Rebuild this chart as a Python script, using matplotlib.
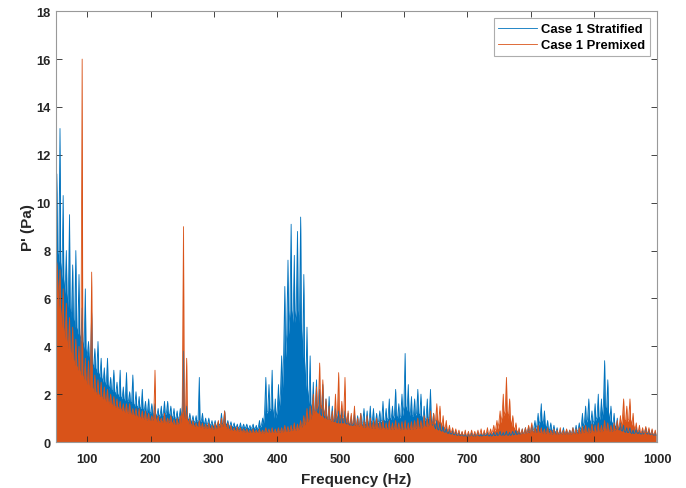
import numpy as np
import matplotlib
matplotlib.use('Agg')
import matplotlib.pyplot as plt

# spectrum in 5 Hz bins, 50..995 Hz
# peak = highest spike in the bin, floor = top of the solid band
FREQ_START = 50
FREQ_STEP = 5

stratified_peak = [
    11.2, 13.1, 10.3, 8.0, 9.5, 7.4, 8.0, 7.0, 5.6, 6.4,
    4.2, 5.4, 3.9, 4.2, 3.5, 3.1, 3.5, 2.7, 3.0, 2.5,
    3.0, 2.3, 2.9, 2.1, 2.8, 2.1, 1.9, 2.2, 1.7, 1.8,
    1.6, 1.6, 1.4, 1.5, 1.7, 1.7, 1.5, 1.4, 1.3, 1.4,
    3.8, 1.5, 1.2, 1.1, 1.1, 2.7, 1.2, 1.0, 1.0, 0.9,
    0.9, 0.85, 1.2, 1.3, 0.9, 0.85, 0.8, 0.75, 0.8, 0.75,
    0.75, 0.7, 0.75, 0.7, 0.9, 1.0, 2.7, 2.4, 3.0, 1.8,
    2.4, 3.6, 6.5, 7.6, 9.1, 7.8, 8.8, 9.4, 7.0, 4.8,
    3.6, 2.5, 2.6, 2.2, 2.4, 1.8, 1.9, 1.5, 1.4, 1.3,
    1.4, 1.3, 1.2, 1.1, 1.2, 1.1, 1.2, 1.4, 1.3, 1.5,
    1.4, 1.2, 1.3, 1.7, 1.4, 1.8, 1.5, 2.2, 1.6, 2.0,
    3.7, 2.4, 1.9, 1.8, 2.2, 2.0, 1.5, 1.8, 2.2, 1.2,
    0.9, 0.8, 0.7, 0.6, 0.55, 0.5, 0.45, 0.4, 0.4, 0.35,
    0.35, 0.4, 0.35, 0.4, 0.35, 0.4, 0.4, 0.35, 0.4, 0.4,
    0.45, 0.4, 0.45, 0.4, 0.45, 0.5, 0.5, 0.55, 0.6, 0.65,
    0.7, 0.9, 1.2, 1.6, 1.3, 0.9, 0.8, 0.7, 0.6, 0.5,
    0.6, 0.5, 0.5, 0.6, 0.7, 0.8, 1.2, 1.5, 1.8, 1.3,
    1.6, 2.0, 1.8, 3.4, 2.6, 1.5, 1.2, 1.0, 0.8, 0.7,
    0.6, 0.6, 0.5, 0.6, 0.5, 0.5, 0.6, 0.5, 0.5, 0.4,
]
stratified_floor = [
    8.0, 7.5, 6.8, 6.2, 5.6, 5.2, 4.8, 4.5, 4.2, 3.9,
    3.6, 3.3, 3.1, 2.9, 2.7, 2.5, 2.4, 2.2, 2.1, 2.0,
    1.9, 1.8, 1.75, 1.7, 1.6, 1.5, 1.45, 1.4, 1.3, 1.25,
    1.2, 1.15, 1.1, 1.1, 1.15, 1.2, 1.1, 1.0, 1.0, 1.0,
    1.3, 1.0, 0.9, 0.85, 0.85, 0.9, 0.85, 0.75, 0.75, 0.7,
    0.7, 0.7, 0.75, 0.8, 0.7, 0.65, 0.65, 0.6, 0.6, 0.6,
    0.6, 0.55, 0.6, 0.55, 0.6, 0.7, 1.2, 1.3, 1.4, 1.0,
    1.3, 2.0, 3.5, 4.5, 5.5, 5.0, 5.5, 5.0, 3.5, 2.2,
    1.6, 1.3, 1.3, 1.2, 1.1, 1.0, 0.95, 0.9, 0.85, 0.8,
    0.8, 0.8, 0.75, 0.7, 0.7, 0.7, 0.75, 0.8, 0.8, 0.85,
    0.85, 0.8, 0.85, 0.9, 0.9, 1.0, 0.95, 1.1, 1.0, 1.1,
    1.5, 1.3, 1.1, 1.1, 1.2, 1.1, 0.9, 1.0, 1.0, 0.7,
    0.55, 0.5, 0.45, 0.4, 0.35, 0.33, 0.3, 0.28, 0.27, 0.25,
    0.25, 0.27, 0.25, 0.27, 0.25, 0.27, 0.27, 0.25, 0.27, 0.27,
    0.3, 0.28, 0.3, 0.28, 0.3, 0.32, 0.33, 0.35, 0.38, 0.4,
    0.45, 0.55, 0.7, 0.9, 0.75, 0.55, 0.5, 0.45, 0.4, 0.35,
    0.38, 0.35, 0.35, 0.38, 0.42, 0.5, 0.65, 0.8, 0.95, 0.75,
    0.9, 1.05, 0.95, 1.5, 1.3, 0.85, 0.7, 0.6, 0.5, 0.45,
    0.4, 0.4, 0.35, 0.38, 0.35, 0.33, 0.38, 0.33, 0.32, 0.28,
]

premixed_peak = [
    7.5, 7.2, 6.4, 5.8, 5.2, 4.8, 4.3, 4.0, 16.0, 3.5,
    3.4, 7.1, 2.8, 2.6, 2.5, 2.3, 2.2, 2.0, 1.9, 1.8,
    1.7, 1.6, 1.6, 1.6, 1.4, 1.4, 1.4, 1.3, 1.3, 1.2,
    1.1, 3.0, 1.1, 1.0, 1.2, 1.0, 1.1, 0.95, 1.0, 1.1,
    9.0, 3.5, 1.0, 0.9, 0.8, 0.9, 0.8, 0.75, 0.8, 0.7,
    0.8, 0.9, 1.0, 1.3, 0.8, 0.7, 0.6, 0.65, 0.6, 0.55,
    0.55, 0.5, 0.55, 0.5, 0.55, 0.5, 0.6, 0.55, 0.6, 0.55,
    0.6, 0.6, 0.7, 0.65, 0.7, 0.8, 0.75, 0.9, 1.1, 1.4,
    1.5, 2.0, 2.3, 3.3, 2.6, 1.8, 1.5, 1.3, 2.0, 2.9,
    1.7, 2.7, 1.3, 1.2, 1.5, 1.0, 1.2, 0.9, 1.1, 1.0,
    0.9, 1.0, 0.85, 0.9, 0.8, 0.9, 0.8, 0.9, 0.8, 0.85,
    0.9, 0.8, 0.85, 0.9, 1.0, 0.9, 1.1, 1.0, 1.3, 1.2,
    1.6, 1.5, 1.1, 0.9, 0.7, 0.6, 0.55, 0.5, 0.45, 0.5,
    0.45, 0.5, 0.45, 0.5, 0.55, 0.5, 0.6, 0.55, 0.7, 0.9,
    1.3, 2.0, 2.7, 1.8, 1.1, 0.8, 0.6, 0.55, 0.6, 0.7,
    0.8, 0.6, 0.7, 0.6, 0.55, 0.6, 0.5, 0.55, 0.5, 0.6,
    0.5, 0.55, 0.5, 0.6, 0.55, 0.6, 0.65, 0.7, 0.6, 0.75,
    0.7, 0.8, 0.7, 0.9, 0.8, 0.7, 0.8, 0.9, 1.1, 1.8,
    1.5, 1.8, 1.2, 0.8, 0.7, 0.6, 0.65, 0.6, 0.55, 0.5,
]
premixed_floor = [
    7.0, 5.6, 4.8, 4.3, 3.9, 3.5, 3.2, 3.0, 2.8, 2.6,
    2.4, 2.3, 2.1, 2.0, 1.9, 1.8, 1.7, 1.6, 1.5, 1.45,
    1.4, 1.3, 1.25, 1.2, 1.15, 1.1, 1.05, 1.0, 0.95, 0.9,
    0.9, 1.0, 0.85, 0.85, 0.85, 0.8, 0.85, 0.75, 0.75, 0.8,
    1.5, 1.0, 0.75, 0.7, 0.65, 0.65, 0.6, 0.58, 0.58, 0.55,
    0.55, 0.6, 0.65, 0.7, 0.55, 0.5, 0.48, 0.48, 0.45, 0.43,
    0.42, 0.4, 0.42, 0.4, 0.4, 0.38, 0.4, 0.4, 0.42, 0.4,
    0.42, 0.42, 0.45, 0.45, 0.48, 0.52, 0.5, 0.6, 0.7, 0.85,
    0.95, 1.2, 1.4, 1.6, 1.4, 1.1, 0.95, 0.85, 1.0, 1.2,
    1.0, 1.1, 0.8, 0.75, 0.8, 0.65, 0.7, 0.6, 0.65, 0.6,
    0.58, 0.6, 0.55, 0.58, 0.55, 0.55, 0.52, 0.55, 0.52, 0.52,
    0.55, 0.52, 0.55, 0.55, 0.6, 0.58, 0.65, 0.65, 0.75, 0.75,
    0.9, 0.85, 0.65, 0.55, 0.45, 0.4, 0.35, 0.33, 0.3, 0.3,
    0.28, 0.3, 0.28, 0.3, 0.33, 0.32, 0.35, 0.35, 0.45, 0.55,
    0.8, 1.1, 1.3, 1.0, 0.65, 0.5, 0.4, 0.35, 0.38, 0.42,
    0.45, 0.4, 0.42, 0.4, 0.35, 0.38, 0.33, 0.35, 0.33, 0.36,
    0.33, 0.35, 0.33, 0.36, 0.35, 0.36, 0.4, 0.42, 0.38, 0.45,
    0.42, 0.48, 0.43, 0.52, 0.48, 0.45, 0.48, 0.55, 0.65, 0.95,
    0.85, 0.95, 0.7, 0.5, 0.42, 0.38, 0.4, 0.38, 0.35, 0.32,
]

x_ticks = [100, 200, 300, 400, 500, 600, 700, 800, 900, 1000]
y_ticks = [0, 2, 4, 6, 8, 10, 12, 14, 16, 18]


def zigzag(peak, floor):
    # band top at the start of each bin, narrow spike inside it
    n = len(peak)
    f = FREQ_START + FREQ_STEP * np.arange(n)
    x = np.empty(3 * n)
    y = np.empty(3 * n)
    x[0::3] = f
    x[1::3] = f + 2.0
    x[2::3] = f + 3.0
    y[0::3] = floor
    y[1::3] = peak
    y[2::3] = floor
    return x, y


plt.rcParams['font.family'] = ['Liberation Sans', 'DejaVu Sans']
plt.rcParams['font.weight'] = 'bold'

fig = plt.figure(figsize=(6.86, 4.89), dpi=100)
ax = fig.add_axes([0.081, 0.094, 0.877, 0.881])

xs, ys = zigzag(stratified_peak, stratified_floor)
xp, yp = zigzag(premixed_peak, premixed_floor)
blue = '#0072BD'
orange = '#D95319'
ax.fill_between(xs, ys, 0, color=blue, linewidth=0)
ax.plot(xs, ys, color=blue, linewidth=0.6, label='Case 1 Stratified')
ax.fill_between(xp, yp, 0, color=orange, linewidth=0)
ax.plot(xp, yp, color=orange, linewidth=0.6, label='Case 1 Premixed')

ax.set_xlim(50, 1000)
ax.set_ylim(0, 18)
ax.set_xticks(x_ticks)
ax.set_yticks(y_ticks)
ax.tick_params(direction='in', top=True, right=True, length=4,
               labelsize=9.3, colors='#262626', width=0.6)
ax.tick_params(axis='x', pad=8)
for lab in ax.get_xticklabels() + ax.get_yticklabels():
    lab.set_fontweight('bold')
for s in ax.spines.values():
    s.set_color('#999999')
    s.set_linewidth(0.8)

ax.set_xlabel('Frequency (Hz)', fontsize=11, fontweight='bold', color='#262626',
              labelpad=5)
ax.set_ylabel("P' (Pa)", fontsize=11, fontweight='bold', color='#262626',
              labelpad=1)

leg = ax.legend(loc='upper right', fontsize=9.4, frameon=True, fancybox=False,
                borderpad=0.35, labelspacing=0.3, handlelength=3.0,
                handletextpad=0.3, borderaxespad=0.55)
leg.get_frame().set_edgecolor('#999999')
leg.get_frame().set_linewidth(0.8)
for t in leg.get_texts():
    t.set_fontweight('bold')

fig.savefig('out.png', dpi=100)
